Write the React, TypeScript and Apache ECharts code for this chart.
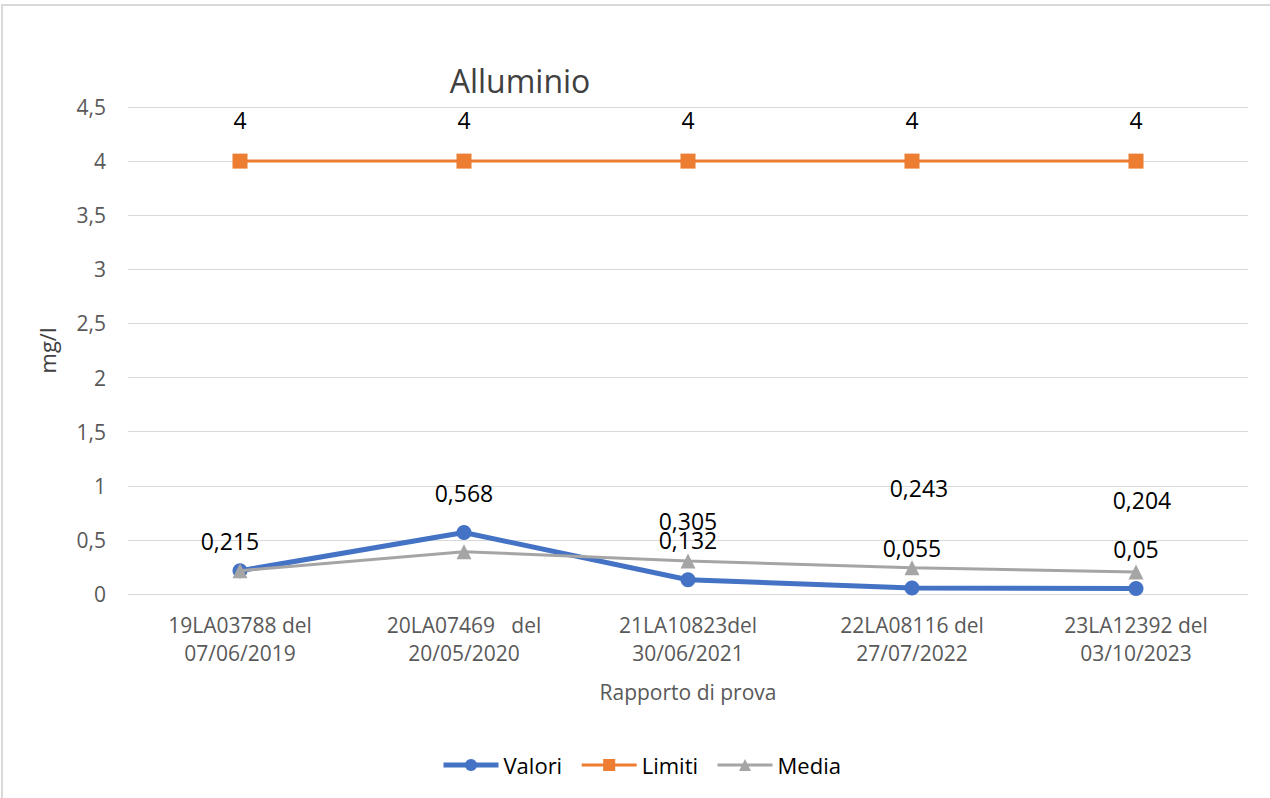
import React, { useEffect, useRef } from "react";
import * as echarts from "echarts";

const categories = [
  "19LA03788 del\n07/06/2019",
  "20LA07469   del\n20/05/2020",
  "21LA10823del\n30/06/2021",
  "22LA08116 del\n27/07/2022",
  "23LA12392 del\n03/10/2023",
];
const valori = [0.215, 0.568, 0.132, 0.055, 0.05];
const limiti = [4, 4, 4, 4, 4];
const media = [0.215, 0.3915, 0.305, 0.243, 0.204];
const yTicks = { min: 0, max: 4.5, interval: 0.5 };

const FONT = "'Open Sans', 'Noto Sans', sans-serif";
const fmt = (v: number) => String(v).replace(".", ",");

export default function App() {
  const ref = useRef<HTMLDivElement>(null);
  useEffect(() => {
    document.body.style.margin = "0";
    const chart = echarts.init(ref.current!, null, { renderer: "svg" });
    const labelBase = {
      show: true,
      position: "top" as const,
      distance: 21,
      fontSize: 23,
      fontFamily: FONT,
      color: "#000000",
      formatter: (p: any) => fmt(p.value),
    };
    chart.setOption({
      animation: false,
      backgroundColor: "#ffffff",
      textStyle: { fontFamily: FONT },
      graphic: [
        {
          type: "rect",
          shape: { x: 2, y: 5, width: 1400, height: 900 },
          style: { fill: "none", stroke: "#D9D9D9", lineWidth: 2 },
          silent: true,
        },
        {
          type: "text",
          x: 520,
          y: 80,
          style: {
            text: "Alluminio",
            fontSize: 32,
            fontFamily: FONT,
            fill: "#404040",
            textAlign: "center",
            textVerticalAlign: "middle",
          },
        },
      ],
      grid: { left: 128, right: 22, top: 107, bottom: 204, containLabel: false },
      legend: {
        left: 436,
        top: 749,
        itemWidth: 55,
        itemHeight: 15,
        itemGap: 18,
        textStyle: { fontSize: 22, fontFamily: FONT, color: "#000000" },
        data: [
          { name: "Valori", lineStyle: { width: 5, color: "#4472C4" } },
          { name: "Limiti", lineStyle: { width: 3, color: "#ED7D31" } },
          { name: "Media", lineStyle: { width: 3, color: "#A5A5A5" } },
        ],
      },
      xAxis: {
        type: "category",
        data: categories,
        boundaryGap: true,
        axisLine: { show: true, lineStyle: { color: "#D9D9D9", width: 1 } },
        axisTick: { show: false },
        axisLabel: {
          fontSize: 21,
          fontFamily: FONT,
          color: "#595959",
          lineHeight: 28,
          margin: 17,
          interval: 0,
        },
        name: "Rapporto di prova",
        nameLocation: "middle",
        nameGap: 87,
        nameTextStyle: { fontSize: 21, fontFamily: FONT, color: "#595959" },
      },
      yAxis: {
        type: "value",
        min: yTicks.min,
        max: yTicks.max,
        interval: yTicks.interval,
        axisLine: { show: false },
        axisTick: { show: false },
        splitLine: { lineStyle: { color: "#D9D9D9", width: 1 } },
        axisLabel: {
          fontSize: 21,
          fontFamily: FONT,
          color: "#595959",
          margin: 22,
          formatter: (v: number) => fmt(v),
        },
        name: "mg/l",
        nameLocation: "middle",
        nameGap: 70,
        nameRotate: 90,
        nameTextStyle: { fontSize: 22, fontFamily: FONT, color: "#404040" },
      },
      series: [
        {
          name: "Valori",
          type: "line",
          data: valori.map((v, i) =>
            i === 0 ? { value: v, label: { offset: [-10, 10] } } : v
          ),
          symbol: "circle",
          symbolSize: 15,
          lineStyle: { width: 5, color: "#4472C4" },
          itemStyle: { color: "#4472C4" },
          label: labelBase,
          z: 2,
        },
        {
          name: "Limiti",
          type: "line",
          data: limiti,
          symbol: "rect",
          symbolSize: 15,
          lineStyle: { width: 3, color: "#ED7D31" },
          itemStyle: { color: "#ED7D31" },
          label: { ...labelBase, distance: 22 },
          z: 3,
        },
        {
          name: "Media",
          type: "line",
          data: media.map((v, i) => {
            if (i < 2) return { value: v, label: { show: false } };
            if (i === 3) return { value: v, label: { offset: [7, -40] } };
            if (i === 4) return { value: v, label: { offset: [6, -32] } };
            return v;
          }),
          symbol: "triangle",
          symbolSize: 15,
          lineStyle: { width: 3, color: "#A5A5A5" },
          itemStyle: { color: "#A5A5A5" },
          label: labelBase,
          z: 4,
        },
      ],
    });
    return () => chart.dispose();
  }, []);
  return (
    <div
      ref={ref}
      style={{ position: "absolute", left: 0, top: 0, width: 1270, height: 798 }}
    />
  );
}
